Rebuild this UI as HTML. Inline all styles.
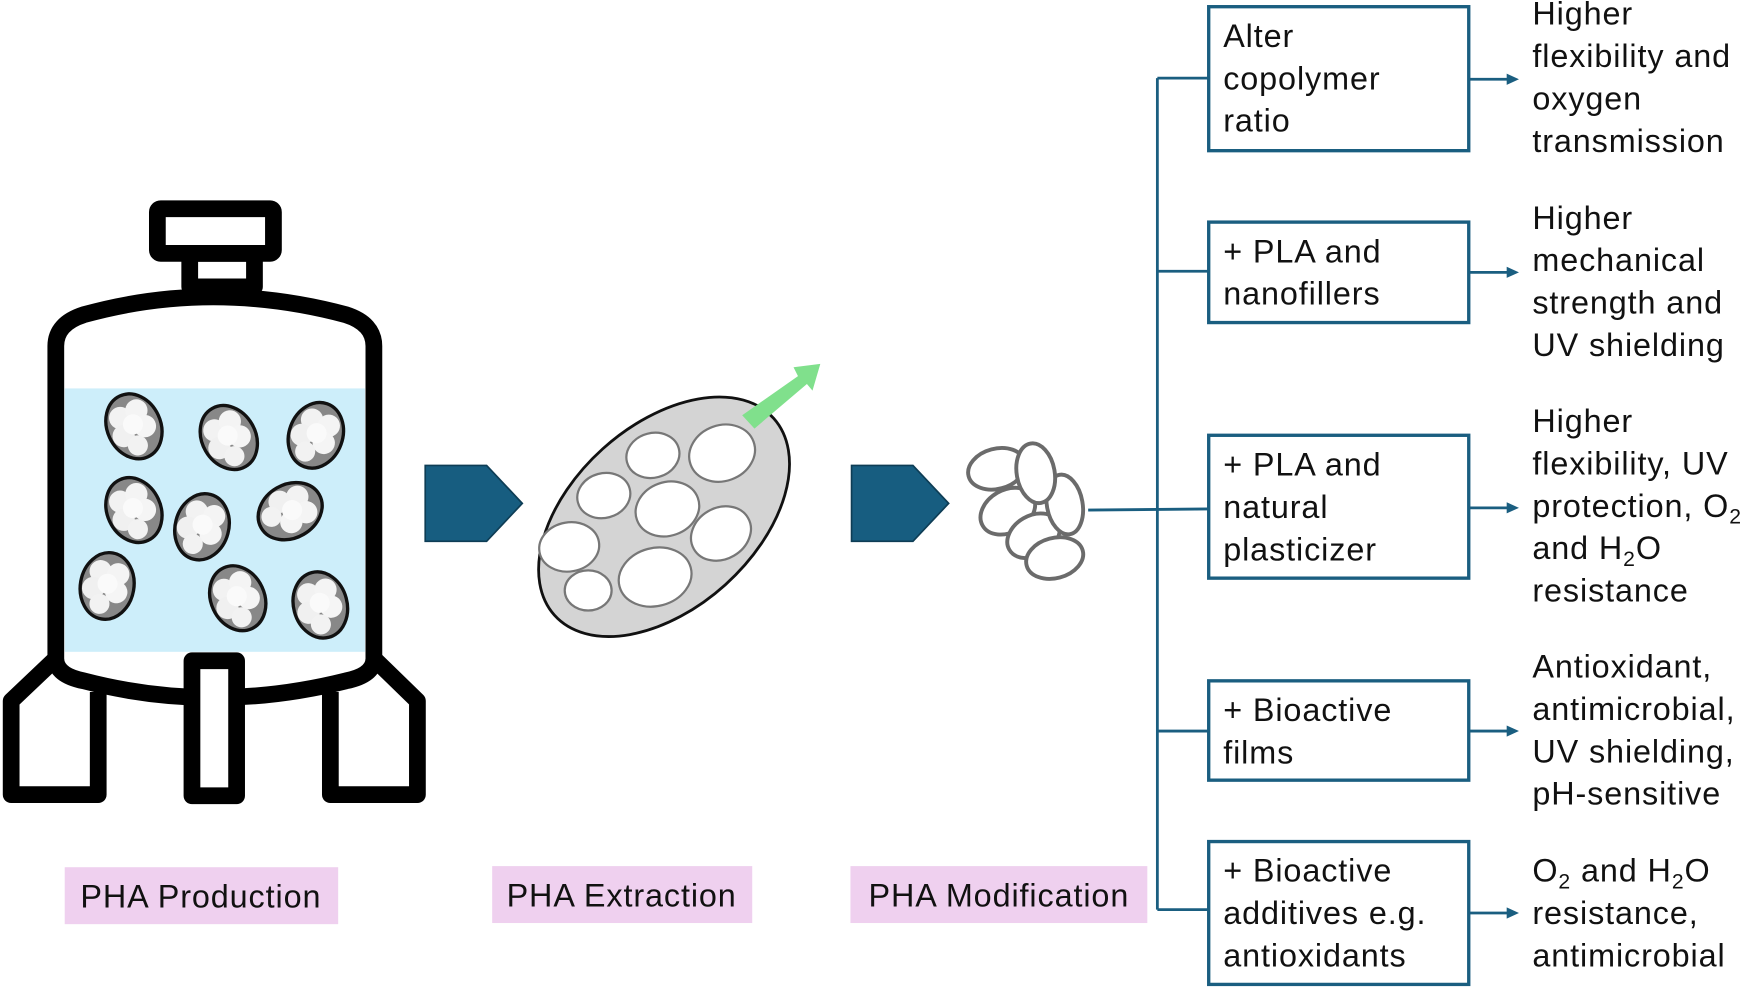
<!DOCTYPE html>
<html><head><meta charset="utf-8"><style>
html,body{margin:0;padding:0;background:#fff;}
svg{display:block;}
text{font-family:"Liberation Sans",sans-serif;font-size:29px;letter-spacing:0.8px;fill:#111;}
</style></head><body>
<svg width="1750" height="990" viewBox="0 0 1568 887" preserveAspectRatio="none" xmlns="http://www.w3.org/2000/svg">
<defs>
<g id="cellg">
<ellipse cx="0" cy="0" rx="24" ry="30" fill="#888" stroke="#111" stroke-width="3"/>
<circle cx="-8" cy="-12" r="10" fill="#f2f2f2"/><circle cx="8" cy="-12" r="10" fill="#f4f4f4"/>
<circle cx="-12" cy="4" r="10" fill="#f0f0f0"/><circle cx="9" cy="4" r="10" fill="#f5f5f5"/>
<circle cx="-4" cy="17" r="9" fill="#f2f2f2"/><circle cx="0" cy="-2" r="9" fill="#fafafa"/>
</g>
</defs>
<!-- tank -->
<g stroke="#000" stroke-width="15" fill="none" stroke-linejoin="round">
<rect x="58" y="348" width="269" height="236" fill="#cdeefa" stroke="none"/>
<rect x="141" y="187" width="104" height="40" rx="3"/>
<rect x="170" y="227" width="58" height="30"/>
<path d="M50,590 L50,310 Q50,290 75,282 Q190,250 310,282 Q335,290 335,310 L335,590 Q335,605 310,610 Q190,640 75,610 Q50,605 50,590 Z"/>
<path d="M50,590 L10,628 L10,712 L88,712 L88,620"/>
<path d="M335,590 L374,628 L374,712 L296,712 L296,620"/>
<rect x="172" y="592" width="40" height="121" fill="#fff"/>
</g>
<use href="#cellg" transform="translate(120,382) rotate(-25)"/>
<use href="#cellg" transform="translate(205,392) rotate(-30)"/>
<use href="#cellg" transform="translate(283,390) rotate(20)"/>
<use href="#cellg" transform="translate(120,457) rotate(-25)"/>
<use href="#cellg" transform="translate(181,472) rotate(15)"/>
<use href="#cellg" transform="translate(260,458) rotate(60)"/>
<use href="#cellg" transform="translate(96,525) rotate(10)"/>
<use href="#cellg" transform="translate(213,536) rotate(-25)"/>
<use href="#cellg" transform="translate(287,542) rotate(-15)"/>
<!-- chevrons -->
<path d="M381,417 L436,417 L468,451 L436,485 L381,485 Z" fill="#175d80" stroke="#0e3d55" stroke-width="1.5"/>
<path d="M763,417 L818,417 L850,451 L818,485 L763,485 Z" fill="#175d80" stroke="#0e3d55" stroke-width="1.5"/>
<!-- cell -->
<ellipse cx="595" cy="463" rx="132" ry="82" transform="rotate(-42 595 463)" fill="#d4d4d4" stroke="#111" stroke-width="2.5"/>
<g fill="#fff" stroke="#777" stroke-width="2">
<ellipse cx="647" cy="406" rx="30" ry="25" transform="rotate(-20 647 406)"/>
<ellipse cx="585" cy="408" rx="24" ry="20" transform="rotate(-15 585 408)"/>
<ellipse cx="541" cy="444" rx="24" ry="20" transform="rotate(-15 541 444)"/>
<ellipse cx="598" cy="456" rx="29" ry="24" transform="rotate(-20 598 456)"/>
<ellipse cx="646" cy="478" rx="28" ry="23" transform="rotate(-30 646 478)"/>
<ellipse cx="510" cy="490" rx="27" ry="22" transform="rotate(-10 510 490)"/>
<ellipse cx="527" cy="529" rx="21" ry="18"/>
<ellipse cx="587" cy="517" rx="33" ry="26" transform="rotate(-15 587 517)"/>
</g>
<path d="M665,372 L715,337 L711,329 L735,326 L728,350 L723,344 L676,384 Z" fill="#80e08c"/>
<!-- granules -->
<g fill="#fff" stroke="#6b6b6b" stroke-width="3.5">
<ellipse cx="893" cy="420" rx="26" ry="18" transform="rotate(-15 893 420)"/>
<ellipse cx="903" cy="458" rx="26" ry="19" transform="rotate(-30 903 458)"/>
<ellipse cx="926" cy="480" rx="25" ry="18" transform="rotate(-30 926 480)"/>
<ellipse cx="945" cy="500" rx="26" ry="18" transform="rotate(-15 945 500)"/>
<ellipse cx="954" cy="452" rx="16" ry="27" transform="rotate(-10 954 452)"/>
<ellipse cx="928" cy="424" rx="17" ry="27" transform="rotate(-10 928 424)"/>
</g>
<!-- connectors -->
<g stroke="#1a5e80" stroke-width="2.5" fill="none">
<path d="M1037,70 L1037,815"/>
<path d="M1037,70 L1083,70 M1037,243 L1083,243 M975,457 L1083,456 M1037,655 L1083,655 M1037,815 L1083,815"/>
<path d="M1316,71 L1352,71 M1316,244 L1352,244 M1316,455 L1352,455 M1316,655 L1352,655 M1316,818 L1352,818"/>
</g>
<g fill="#1a5e80">
<path d="M1361,71 L1350,66 L1350,76 Z"/><path d="M1361,244 L1350,239 L1350,249 Z"/>
<path d="M1361,455 L1350,450 L1350,460 Z"/><path d="M1361,655 L1350,650 L1350,660 Z"/>
<path d="M1361,818 L1350,813 L1350,823 Z"/>
</g>
<g fill="#fff" stroke="#1a5e80" stroke-width="3">
<rect x="1083" y="6" width="233" height="129"/>
<rect x="1083" y="199" width="233" height="90"/>
<rect x="1083" y="390" width="233" height="128"/>
<rect x="1083" y="610" width="233" height="89"/>
<rect x="1083" y="754" width="233" height="128"/>
</g>
<g>
<text x="1096" y="42">Alter</text><text x="1096" y="80">copolymer</text><text x="1096" y="118">ratio</text>
<text x="1096" y="235">+ PLA and</text><text x="1096" y="273">nanofillers</text>
<text x="1096" y="426">+ PLA and</text><text x="1096" y="464">natural</text><text x="1096" y="502">plasticizer</text>
<text x="1096" y="646">+ Bioactive</text><text x="1096" y="684">films</text>
<text x="1096" y="790">+ Bioactive</text><text x="1096" y="828">additives e.g.</text><text x="1096" y="866">antioxidants</text>
</g>
<g>
<text x="1373" y="22">Higher</text><text x="1373" y="60">flexibility and</text><text x="1373" y="98">oxygen</text><text x="1373" y="136">transmission</text>
<text x="1373" y="205">Higher</text><text x="1373" y="243">mechanical</text><text x="1373" y="281">strength and</text><text x="1373" y="319">UV shielding</text>
<text x="1373" y="387">Higher</text><text x="1373" y="425">flexibility, UV</text><text x="1373" y="463">protection, O<tspan font-size="19" dy="6">2</tspan></text>
<text x="1373" y="501">and H<tspan font-size="19" dy="6">2</tspan><tspan dy="-6">O</tspan></text><text x="1373" y="539">resistance</text>
<text x="1373" y="607">Antioxidant,</text><text x="1373" y="645">antimicrobial,</text><text x="1373" y="683">UV shielding,</text><text x="1373" y="721">pH-sensitive</text>
<text x="1373" y="790">O<tspan font-size="19" dy="6">2</tspan><tspan dy="-6"> and H</tspan><tspan font-size="19" dy="6">2</tspan><tspan dy="-6">O</tspan></text><text x="1373" y="828">resistance,</text><text x="1373" y="866">antimicrobial</text>
</g>
<!-- labels -->
<rect x="58" y="777" width="245" height="51" fill="#efd0ef"/>
<rect x="441" y="776" width="233" height="51" fill="#efd0ef"/>
<rect x="762" y="776" width="266" height="51" fill="#efd0ef"/>
<text x="180" y="813" text-anchor="middle">PHA Production</text>
<text x="557" y="812" text-anchor="middle">PHA Extraction</text>
<text x="895" y="812" text-anchor="middle">PHA Modification</text>
</svg>
</body></html>
